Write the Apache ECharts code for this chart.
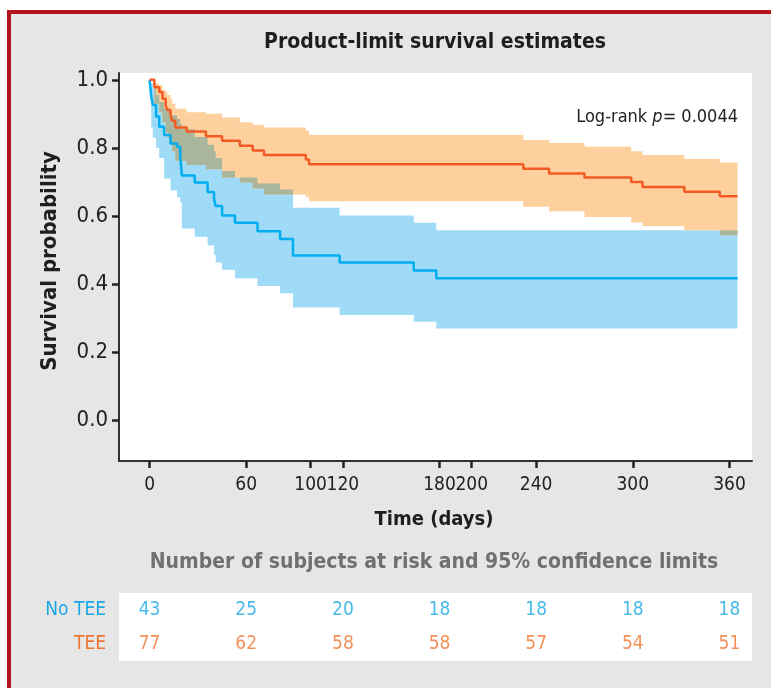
<!DOCTYPE html>
<html>
<head>
<meta charset="utf-8">
<script src="https://cdn.jsdelivr.net/npm/echarts@6/dist/echarts.min.js"></script>
<style>
  html, body { margin: 0; padding: 0; background: #ffffff; width: 771px; height: 688px; overflow: hidden; }
  #frame { position: absolute; left: 7px; top: 10px; width: 900px; height: 900px; background: #e6e6e6;
           border-left: 4px solid #b3141d; border-top: 4px solid #b3141d; }
  #c { position: absolute; left: 0; top: 0; width: 771px; height: 688px; }
</style>
</head>
<body>
<div id="frame"></div>
<div id="c"></div>
<script>
// ---------- data ----------
const noTeeTime  = [0, 1, 2, 4, 6, 9, 13, 17, 19, 20, 28, 36, 40, 41, 45, 53, 67, 81, 89, 118, 164, 178, 365];
const noTeeSurv  = [1.0, 0.951, 0.926, 0.892, 0.862, 0.838, 0.813, 0.803, 0.778, 0.719, 0.698, 0.670, 0.650, 0.629, 0.601, 0.580, 0.555, 0.532, 0.484, 0.463, 0.440, 0.417, 0.417];
const noTeeLower = [1.0, 0.86, 0.83, 0.80, 0.77, 0.71, 0.675, 0.655, 0.64, 0.563, 0.539, 0.513, 0.486, 0.463, 0.442, 0.417, 0.394, 0.373, 0.331, 0.309, 0.289, 0.269, 0.269];
const noTeeUpper = [1.0, 0.99, 0.975, 0.955, 0.935, 0.915, 0.895, 0.885, 0.87, 0.855, 0.832, 0.809, 0.79, 0.77, 0.732, 0.713, 0.695, 0.678, 0.624, 0.601, 0.58, 0.558, 0.558];

const teeTime  = [0, 3, 6, 8, 10, 11, 13, 14, 16, 23, 35, 45, 56, 64, 71, 97, 99, 232, 248, 270, 299, 306, 332, 354, 365];
const teeSurv  = [1.0, 0.978, 0.964, 0.944, 0.925, 0.911, 0.897, 0.880, 0.860, 0.848, 0.834, 0.821, 0.806, 0.792, 0.779, 0.766, 0.752, 0.739, 0.725, 0.713, 0.700, 0.685, 0.671, 0.658, 0.658];
const teeLower = [1.0, 0.93, 0.905, 0.875, 0.845, 0.83, 0.81, 0.79, 0.762, 0.75, 0.737, 0.713, 0.698, 0.681, 0.663, 0.655, 0.643, 0.627, 0.614, 0.597, 0.581, 0.570, 0.558, 0.543, 0.543];
const teeUpper = [1.0, 0.99, 0.985, 0.97, 0.964, 0.955, 0.945, 0.93, 0.915, 0.905, 0.90, 0.889, 0.875, 0.868, 0.86, 0.85, 0.838, 0.823, 0.814, 0.803, 0.79, 0.779, 0.767, 0.757, 0.757];

const riskTimes  = [0, 60, 120, 180, 240, 300, 360];
const noTeeRisk  = [43, 25, 20, 18, 18, 18, 18];
const teeRisk    = [77, 62, 58, 58, 57, 54, 51];
const riskGroups = ['TEE', 'No TEE'];

const xTicks = [0, 60, 100, 120, 180, 200, 240, 300, 360];
const yTicks = [0, 0.2, 0.4, 0.6, 0.8, 1.0];

const titleText = 'Product-limit survival estimates';
const xName = 'Time (days)';
const yName = 'Survival probability';
const riskTitle = 'Number of subjects at risk and 95% confidence limits';
const pText = 'Log-rank {i|p}= 0.0044';

// ---------- helpers ----------
const F = "'Liberation Sans Narrow','DejaVu Sans Condensed','Arial Narrow','Liberation Sans',sans-serif";
const BLUE = '#00aeef', ORANGE = '#f25c24';
const BLUE_BAND = '#9fdbf6', ORANGE_BAND = '#fdd09d', MIX_BAND = '#a9b69b';
const BLUE_TXT = '#1aa9e3', ORANGE_TXT = '#ef7431';

function intervals(time, lo, hi) {
  const out = [];
  for (let i = 0; i < time.length - 1; i++) out.push([time[i], time[i + 1], lo[i], hi[i]]);
  return out;
}
function stepAt(time, arr, t) {
  let v = arr[0];
  for (let i = 0; i < time.length; i++) if (time[i] <= t) v = arr[i];
  return v;
}
function overlapIntervals() {
  const ts = Array.from(new Set(noTeeTime.concat(teeTime))).sort((a, b) => a - b);
  const out = [];
  for (let i = 0; i < ts.length - 1; i++) {
    const t = ts[i];
    const lo = Math.max(stepAt(noTeeTime, noTeeLower, t), stepAt(teeTime, teeLower, t));
    const hi = Math.min(stepAt(noTeeTime, noTeeUpper, t), stepAt(teeTime, teeUpper, t));
    out.push([t, ts[i + 1], lo, hi]);
  }
  return out;
}
function bandRender(ivs, color) {
  return function (params, api) {
    if (params.dataIndex !== 0) return;
    const children = [];
    let run = [];
    const flush = () => {
      if (!run.length) return;
      const pts = [];
      run.forEach(iv => { pts.push(api.coord([iv[0], iv[3]])); pts.push(api.coord([iv[1], iv[3]])); });
      for (let k = run.length - 1; k >= 0; k--) {
        const iv = run[k];
        pts.push(api.coord([iv[1], iv[2]])); pts.push(api.coord([iv[0], iv[2]]));
      }
      children.push({ type: 'polygon', shape: { points: pts }, style: { fill: color } });
      run = [];
    };
    ivs.forEach(iv => { if (iv[3] > iv[2]) run.push(iv); else flush(); });
    flush();
    return { type: 'group', children: children };
  };
}
function bandSeries(ivs, color, z) {
  return {
    type: 'custom', xAxisIndex: 0, yAxisIndex: 0, silent: true, z: z,
    data: ivs, encode: { x: [0, 1], y: [2, 3] },
    renderItem: bandRender(ivs, color)
  };
}
const zip = (a, b) => a.map((v, i) => [v, b[i]]);

const blueIvs = intervals(noTeeTime, noTeeLower, noTeeUpper);
const orangeIvs = intervals(teeTime, teeLower, teeUpper);
const mixIvs = overlapIntervals();

const chart = echarts.init(document.getElementById('c'), null, { renderer: 'canvas' });
const option = {
  animation: false,
  backgroundColor: 'transparent',
  grid: [
    { left: 119, right: 19, top: 73, bottom: 227, show: true, backgroundColor: '#ffffff', borderWidth: 0 },
    { left: 119, right: 19, top: 593, bottom: 27, show: true, backgroundColor: '#ffffff', borderWidth: 0 }
  ],
  xAxis: [
    {
      type: 'value', gridIndex: 0, min: -19, max: 374,
      axisLine: { show: true, onZero: false, lineStyle: { color: '#333', width: 2 } },
      axisTick: { show: true, customValues: xTicks, length: 7, lineStyle: { color: '#222', width: 2.5 } },
      axisLabel: { customValues: xTicks, fontSize: 19, color: '#222', fontFamily: F, margin: 15 },
      splitLine: { show: false }
    },
    { type: 'value', gridIndex: 1, min: -19, max: 374, show: false }
  ],
  yAxis: [
    {
      type: 'value', gridIndex: 0, min: -0.12, max: 1.02,
      axisLine: { show: true, onZero: false, lineStyle: { color: '#333', width: 2 } },
      axisTick: { show: true, customValues: yTicks, length: 7, lineStyle: { color: '#222', width: 2.5 } },
      axisLabel: { customValues: yTicks, formatter: v => Number(v).toFixed(1), fontSize: 22, color: '#222', fontFamily: F, margin: 11 },
      splitLine: { show: false }
    },
    {
      type: 'category', gridIndex: 1, data: riskGroups,
      axisLine: { show: false }, axisTick: { show: false }, splitLine: { show: false },
      axisLabel: { color: v => (v === 'TEE' ? ORANGE_TXT : BLUE_TXT), fontSize: 19, fontFamily: F, margin: 13 }
    }
  ],
  series: [
    bandSeries(blueIvs, BLUE_BAND, 1),
    bandSeries(orangeIvs, ORANGE_BAND, 1),
    bandSeries(mixIvs, MIX_BAND, 2),
    { type: 'line', name: 'No TEE', xAxisIndex: 0, yAxisIndex: 0, step: 'end', showSymbol: false, symbol: 'none', z: 3,
      data: zip(noTeeTime, noTeeSurv), lineStyle: { color: BLUE, width: 2.5 } },
    { type: 'line', name: 'TEE', xAxisIndex: 0, yAxisIndex: 0, step: 'end', showSymbol: false, symbol: 'none', z: 3,
      data: zip(teeTime, teeSurv), lineStyle: { color: ORANGE, width: 2.5 } },
    { type: 'scatter', xAxisIndex: 1, yAxisIndex: 1, symbolSize: 1, itemStyle: { color: 'transparent' }, silent: true,
      data: riskTimes.map((t, i) => [t, 'No TEE', noTeeRisk[i]]),
      label: { show: true, position: 'inside', formatter: p => String(p.value[2]), fontSize: 19, color: BLUE_TXT, fontFamily: F } },
    { type: 'scatter', xAxisIndex: 1, yAxisIndex: 1, symbolSize: 1, itemStyle: { color: 'transparent' }, silent: true,
      data: riskTimes.map((t, i) => [t, 'TEE', teeRisk[i]]),
      label: { show: true, position: 'inside', formatter: p => String(p.value[2]), fontSize: 19, color: ORANGE_TXT, fontFamily: F } }
  ],
  graphic: [
    { type: 'text', x: 435, y: 43, style: { text: titleText, align: 'center', verticalAlign: 'middle', fontSize: 21, fontWeight: 'bold', fontFamily: F, fill: '#1e1e1e' } },
    { type: 'text', x: 738, y: 117, style: { text: pText, align: 'right', verticalAlign: 'middle', fontSize: 18, fontFamily: F, fill: '#222',
        rich: { i: { fontStyle: 'italic', fontSize: 18, fontFamily: F, fill: '#222' } } } },
    { type: 'text', x: 434, y: 520, style: { text: xName, align: 'center', verticalAlign: 'middle', fontSize: 20, fontWeight: 'bold', fontFamily: F, fill: '#1e1e1e' } },
    { type: 'text', x: 50, y: 261, rotation: Math.PI / 2, style: { text: yName, align: 'center', verticalAlign: 'middle', fontSize: 22, fontWeight: 'bold', fontFamily: F, fill: '#1e1e1e' } },
    { type: 'text', x: 434, y: 563, style: { text: riskTitle, align: 'center', verticalAlign: 'middle', fontSize: 21, fontWeight: 'bold', fontFamily: F, fill: '#707070' } }
  ]
};
chart.setOption(option);
</script>
</body>
</html>
